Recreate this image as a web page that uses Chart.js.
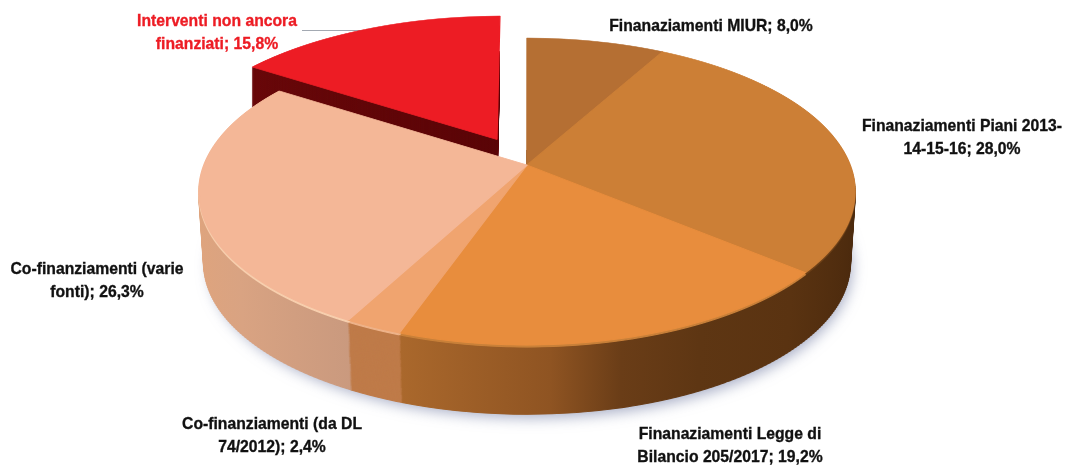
<!DOCTYPE html>
<html><head><meta charset="utf-8">
<script src="https://cdn.jsdelivr.net/npm/chart.js@4"></script>
<style>html,body{margin:0;padding:0;background:#fff}canvas{display:block}</style>
</head><body><canvas id="c" width="1067" height="467"></canvas>
<script>
// ---- data ----
const categories = ["Finanaziamenti MIUR","Finanaziamenti Piani 2013-14-15-16","Finanaziamenti Legge di Bilancio 205/2017","Co-finanziamenti (da DL 74/2012)","Co-finanziamenti (varie fonti)","Interventi non ancora finanziati"];
const shares = [8.0,28.0,19.2,2.4,26.3,15.8];
const topColors = ["#b56f33","#cc7f36","#e88d3d","#f0a46f","#f4b797","#ed1c24"];
const labelLines = [
  ["Finanaziamenti MIUR; 8,0%"],
  ["Finanaziamenti Piani 2013-","14-15-16; 28,0%"],
  ["Finanaziamenti Legge di","Bilancio 205/2017; 19,2%"],
  ["Co-finanziamenti (da DL","74/2012); 2,4%"],
  ["Co-finanziamenti (varie","fonti); 26,3%"],
  ["Interventi non ancora","finanziati; 15,8%"]
];
// ---- layout / style ----
const labelPos = [[711,31],[962,131],[730,439],[272,429],[97,274],[217,26]];
const labelColors = ["#111","#111","#111","#111","#111","#ed1c24"];
const explode = [0,0,0,0,0,134];
const textStretch = 0.925, lineGap = 22.5;
const P = {X0:527, Y0:165, A:323, B:148.9, k:0.1726};
const D = 72, redD = 40;

function row(ctx, elems, p, y, h, R, cx, cy){
  const dy = y + h/2 - p.Y0, v = dy/(p.B + p.k*dy), w = 1 - p.k*v;
  if (w <= 0.05) return;
  const sx = p.A/(w*R), sy = p.B/(w*w*R);
  ctx.save();
  ctx.setTransform(1,0,0,1,0,0);
  ctx.beginPath(); ctx.rect(0,y,1067,h); ctx.clip();
  ctx.setTransform(sx,0,0,sy,p.X0 - sx*cx, y + h/2 - sy*(cy + v*R));
  for (const e of elems) e.draw(ctx);
  ctx.restore();
}
function paint(e, fill){
  e.options = Object.assign({}, e.options, {backgroundColor:fill, borderColor:fill, borderWidth:0.8});
}
const plate = {
  id:'plate',
  beforeDatasetsDraw(chart){
    const ctx = chart.ctx, arcs = chart.getDatasetMeta(0).data;
    const R = arcs[0].outerRadius, cx = arcs[0].x, cy = arcs[0].y;
    const main = arcs.slice(0,5), red = arcs[5];
    const grad = stops => {
      const g = ctx.createLinearGradient(cx-R,0,cx+R,0);
      stops.forEach(s => g.addColorStop((s[0]+1)/2, s[1]));
      return g;
    };
    const darkWall = grad([[-1,"#a8672c"],[-.33,"#aa682c"],[.06,"#8f5422"],[.245,"#6a3d17"],[.455,"#5e3613"],[.72,"#5a3311"],[1,"#4a290d"]]);
    const wallFills = [darkWall, darkWall, darkWall, "#bf7b49",
      grad([[-1,"#dfa47d"],[-.8,"#d9a382"],[-.45,"#c9997e"],[1,"#c9997e"]])];
    const rimFills = ["#6e4118","#6e4118","#c98039","#eeb38a","#f8d0af"];
    // side wall of the main plate, deepest layer first
    main.forEach((e,i)=>paint(e, wallFills[i]));
    for (let t=D; t>=3; t-=1){
      const s = 1 - 0.015*t/D;
      const q = {X0:P.X0, Y0:P.Y0+t, A:P.A*s, B:P.B*s, k:P.k};
      for (let y=Math.floor(q.Y0+18); y<425; y+=2) row(ctx,main,q,y,2,R,cx,cy);
    }
    main.forEach((e,i)=>paint(e, rimFills[i]));
    { const q = {...P, Y0:P.Y0+2};
      for (let y=150; y<360; y++) row(ctx,main,q,y,1,R,cx,cy); }
    // top face
    main.forEach((e,i)=>paint(e, topColors[i]));
    for (let y=30; y<355; y++) row(ctx,main,P,y,1,R,cx,cy);
    // everything below goes behind what is already there
    ctx.save();
    ctx.globalCompositeOperation = 'destination-over';
    ctx.save();
    ctx.beginPath(); ctx.rect(0,200,1067,267); ctx.clip();
    ctx.shadowColor = 'rgba(110,120,160,.6)'; ctx.shadowBlur = 14;
    ctx.shadowOffsetX = 4; ctx.shadowOffsetY = 5;
    ctx.fillStyle = '#c4c8d6';
    ctx.beginPath(); ctx.ellipse(527,262,321,151,0,0,Math.PI*2); ctx.fill();
    ctx.restore();
    // detached slice: top then wall
    paint(red, topColors[5]);
    for (let y=6; y<170; y++) row(ctx,[red],P,y,1,R,cx,cy);
    paint(red, grad([[-1,"#6a0709"],[0,"#5a0406"],[1,"#5a0406"]]));
    for (let t=1; t<=redD; t+=1){
      const q = {...P, Y0:P.Y0+t};
      for (let y=Math.floor(50+t); y<190; y+=2) row(ctx,[red],q,y,2,R,cx,cy);
    }
    ctx.strokeStyle = '#a3a9b2'; ctx.lineWidth = 1;
    ctx.beginPath(); ctx.moveTo(302,30.5); ctx.lineTo(367,30.5); ctx.stroke();
    ctx.restore();
    return false;
  },
  afterDraw(chart){
    const ctx = chart.ctx;
    ctx.save();
    ctx.setTransform(1,0,0,1,0,0);
    ctx.font = 'bold 17px "Liberation Sans"';
    ctx.textAlign = 'center'; ctx.textBaseline = 'alphabetic';
    ctx.lineWidth = 0.35;
    labelLines.forEach((lines,i)=>{
      ctx.fillStyle = labelColors[i];
      ctx.strokeStyle = labelColors[i];
      lines.forEach((t,j)=>{
        ctx.save();
        ctx.translate(labelPos[i][0], labelPos[i][1] + j*lineGap);
        ctx.scale(textStretch,1);
        ctx.fillText(t,0,0);
        ctx.strokeText(t,0,0);
        ctx.restore();
      });
    });
    ctx.restore();
  }
};
new Chart(document.getElementById('c'),{
  type:'pie',
  data:{labels:categories,datasets:[{data:shares,backgroundColor:topColors,borderWidth:0,offset:explode}]},
  options:{responsive:false,animation:false,layout:{padding:0},
    plugins:{legend:{display:false},tooltip:{enabled:false}}},
  plugins:[plate]
});
</script></body></html>
